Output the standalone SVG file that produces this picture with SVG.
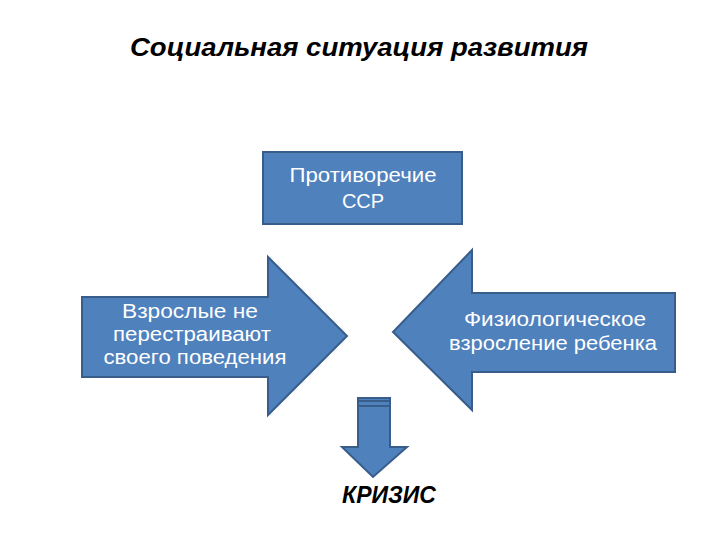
<svg xmlns="http://www.w3.org/2000/svg" width="720" height="540" viewBox="0 0 720 540">
<style>
.shape{fill:#4F81BD;stroke:#385D8A;stroke-width:2}
.lbl{font-family:"Liberation Sans",sans-serif;font-size:20px;fill:#FFFFFF;text-anchor:middle}
.title{font-family:"Liberation Sans",sans-serif;font-style:italic;font-weight:bold;font-size:25px;fill:#000000}
.crisis{font-family:"Liberation Sans",sans-serif;font-style:italic;font-weight:bold;font-size:23px;fill:#000000;text-anchor:middle}
</style>
<rect width="720" height="540" fill="#FFFFFF"/>
<text class="title" x="130" y="56" textLength="458" lengthAdjust="spacingAndGlyphs">Социальная ситуация развития</text>
<g id="contradiction">
<rect class="shape" x="263" y="152" width="199" height="72"/>
<text class="lbl" x="363" y="182" textLength="147" lengthAdjust="spacingAndGlyphs">Противоречие</text>
<text class="lbl" x="363" y="208">ССР</text>
</g>
<g id="adults">
<path class="shape" d="M82,297 L268,297 L268,257 L347,336 L268,415 L268,377 L82,377 Z"/>
<text class="lbl" x="190" y="318" textLength="136" lengthAdjust="spacingAndGlyphs">Взрослые не</text>
<text class="lbl" x="192" y="341" textLength="158" lengthAdjust="spacingAndGlyphs">перестраивают</text>
<text class="lbl" x="195" y="364" textLength="183" lengthAdjust="spacingAndGlyphs">своего поведения</text>
</g>
<g id="maturation">
<path class="shape" d="M675,293 L472,293 L472,250 L393,332 L472,410 L472,372 L675,372 Z"/>
<text class="lbl" x="555" y="326" textLength="182" lengthAdjust="spacingAndGlyphs">Физиологическое</text>
<text class="lbl" x="553" y="350" textLength="208" lengthAdjust="spacingAndGlyphs">взросление ребенка</text>
</g>
<g id="connectors">
<path class="shape" d="M358,398 L390,398 L390,447 L407,447 L373,477 L342,447 L358,447 Z"/>
<line x1="358" y1="401" x2="390" y2="401" stroke="#385D8A" stroke-width="2"/>
<line x1="358" y1="406" x2="390" y2="406" stroke="#385D8A" stroke-width="2"/>
</g>
<g id="crisis">
<text class="crisis" x="389" y="503">КРИЗИС</text>
</g>
</svg>
